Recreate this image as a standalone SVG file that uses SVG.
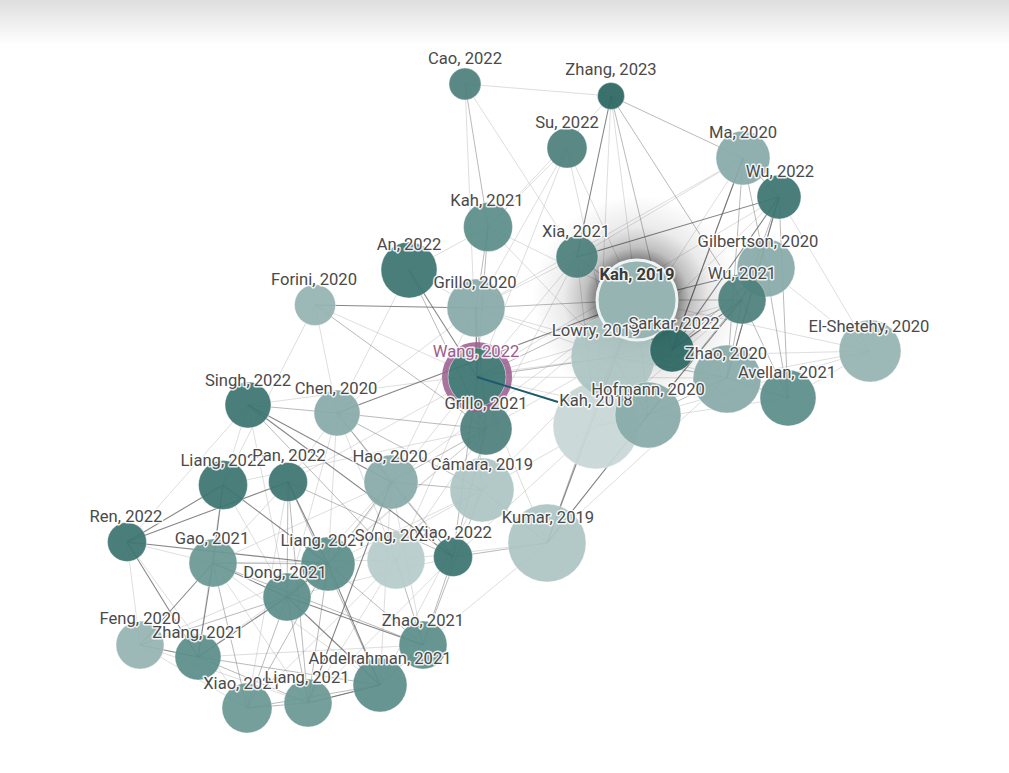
<svg xmlns="http://www.w3.org/2000/svg" width="1009" height="773" viewBox="0 0 1009 773">
<defs>
<linearGradient id="topfade" x1="0" y1="0" x2="0" y2="1">
<stop offset="0" stop-color="#dedede"/>
<stop offset="1" stop-color="#ffffff"/>
</linearGradient>
<radialGradient id="glow" cx="0.5" cy="0.5" r="0.5">
<stop offset="0.38" stop-color="#000" stop-opacity="0.5"/>
<stop offset="0.5" stop-color="#000" stop-opacity="0.25"/>
<stop offset="0.7" stop-color="#000" stop-opacity="0.08"/>
<stop offset="1" stop-color="#000" stop-opacity="0"/>
</radialGradient>
<style>
.e1{stroke:#5f5f5f;stroke-opacity:.75;stroke-width:1.1;fill:none}
.e2{stroke:#8c8c8c;stroke-opacity:.6;stroke-width:1;fill:none}
.e3{stroke:#bdbdbd;stroke-opacity:.5;stroke-width:1;fill:none}
.n circle{stroke:#fff;stroke-opacity:.35;stroke-width:1;opacity:.93}
.c0{fill:#2c6762}.c1{fill:#3d7571}.c2{fill:#4d807c}.c3{fill:#5c8e8a}.c4{fill:#6a9894}
.c5{fill:#88aba9}.c6{fill:#96b4b2}.c7{fill:#adc5c4}.c8{fill:#b6cccb}.c9{fill:#c8d8d7}
text{font-family:Roboto,"Liberation Sans",sans-serif;font-size:16.6px;fill:#4a4a4a;text-anchor:middle;stroke:#fff;stroke-width:3;stroke-opacity:.85;paint-order:stroke;stroke-linejoin:round}
</style>
</defs>
<rect width="1009" height="773" fill="#fff"/>
<rect width="1009" height="45" fill="url(#topfade)"/>
<g id="connectors">
<line class="e3" x1="465" y1="84" x2="611" y2="96"/>
<line class="e3" x1="465" y1="84" x2="577" y2="257"/>
<line class="e3" x1="465" y1="84" x2="477" y2="377"/>
<line class="e3" x1="567" y1="148" x2="488" y2="227"/>
<line class="e3" x1="567" y1="148" x2="476" y2="308"/>
<line class="e3" x1="567" y1="148" x2="637" y2="300"/>
<line class="e3" x1="567" y1="148" x2="477" y2="377"/>
<line class="e3" x1="567" y1="148" x2="613" y2="357"/>
<line class="e3" x1="611" y1="96" x2="637" y2="300"/>
<line class="e3" x1="611" y1="96" x2="488" y2="227"/>
<line class="e3" x1="611" y1="96" x2="596" y2="426"/>
<line class="e3" x1="743" y1="158" x2="577" y2="257"/>
<line class="e3" x1="743" y1="158" x2="613" y2="357"/>
<line class="e3" x1="743" y1="158" x2="476" y2="308"/>
<line class="e3" x1="779" y1="197" x2="870" y2="351"/>
<line class="e3" x1="779" y1="197" x2="613" y2="357"/>
<line class="e3" x1="766" y1="268" x2="870" y2="351"/>
<line class="e3" x1="727" y1="378" x2="870" y2="351"/>
<line class="e3" x1="788" y1="398" x2="870" y2="351"/>
<line class="e3" x1="637" y1="300" x2="870" y2="351"/>
<line class="e3" x1="648" y1="415" x2="870" y2="351"/>
<line class="e3" x1="488" y1="227" x2="637" y2="300"/>
<line class="e3" x1="488" y1="227" x2="613" y2="357"/>
<line class="e3" x1="488" y1="227" x2="409" y2="270"/>
<line class="e3" x1="577" y1="257" x2="477" y2="377"/>
<line class="e3" x1="577" y1="257" x2="476" y2="308"/>
<line class="e3" x1="577" y1="257" x2="596" y2="426"/>
<line class="e3" x1="577" y1="257" x2="486" y2="429"/>
<line class="e3" x1="409" y1="270" x2="476" y2="308"/>
<line class="e3" x1="409" y1="270" x2="337" y2="413"/>
<line class="e3" x1="315" y1="305" x2="337" y2="413"/>
<line class="e3" x1="315" y1="305" x2="223" y2="485"/>
<line class="e3" x1="315" y1="305" x2="477" y2="377"/>
<line class="e3" x1="476" y1="308" x2="613" y2="357"/>
<line class="e3" x1="476" y1="308" x2="727" y2="378"/>
<line class="e3" x1="476" y1="308" x2="337" y2="413"/>
<line class="e3" x1="476" y1="308" x2="391" y2="482"/>
<line class="e3" x1="477" y1="377" x2="742" y2="300"/>
<line class="e3" x1="477" y1="377" x2="727" y2="378"/>
<line class="e3" x1="477" y1="377" x2="648" y2="415"/>
<line class="e3" x1="477" y1="377" x2="779" y2="197"/>
<line class="e3" x1="477" y1="377" x2="482" y2="490"/>
<line class="e3" x1="477" y1="377" x2="547" y2="543"/>
<line class="e3" x1="477" y1="377" x2="396" y2="560"/>
<line class="e3" x1="477" y1="377" x2="328" y2="564"/>
<line class="e3" x1="477" y1="377" x2="288" y2="482"/>
<line class="e3" x1="486" y1="429" x2="637" y2="300"/>
<line class="e3" x1="486" y1="429" x2="613" y2="357"/>
<line class="e3" x1="486" y1="429" x2="287" y2="597"/>
<line class="e3" x1="486" y1="429" x2="328" y2="564"/>
<line class="e3" x1="486" y1="429" x2="396" y2="560"/>
<line class="e3" x1="486" y1="429" x2="223" y2="485"/>
<line class="e3" x1="248" y1="405" x2="613" y2="357"/>
<line class="e3" x1="248" y1="405" x2="127" y2="542"/>
<line class="e3" x1="248" y1="405" x2="223" y2="485"/>
<line class="e3" x1="248" y1="405" x2="287" y2="597"/>
<line class="e3" x1="337" y1="413" x2="396" y2="560"/>
<line class="e3" x1="337" y1="413" x2="328" y2="564"/>
<line class="e3" x1="337" y1="413" x2="287" y2="597"/>
<line class="e3" x1="337" y1="413" x2="288" y2="482"/>
<line class="e3" x1="391" y1="482" x2="287" y2="597"/>
<line class="e3" x1="391" y1="482" x2="213" y2="563"/>
<line class="e3" x1="391" y1="482" x2="423" y2="645"/>
<line class="e3" x1="391" y1="482" x2="380" y2="685"/>
<line class="e3" x1="391" y1="482" x2="637" y2="300"/>
<line class="e3" x1="482" y1="490" x2="596" y2="426"/>
<line class="e3" x1="482" y1="490" x2="613" y2="357"/>
<line class="e3" x1="482" y1="490" x2="328" y2="564"/>
<line class="e3" x1="482" y1="490" x2="287" y2="597"/>
<line class="e3" x1="482" y1="490" x2="380" y2="685"/>
<line class="e3" x1="547" y1="543" x2="648" y2="415"/>
<line class="e3" x1="547" y1="543" x2="396" y2="560"/>
<line class="e3" x1="547" y1="543" x2="423" y2="645"/>
<line class="e3" x1="547" y1="543" x2="727" y2="378"/>
<line class="e3" x1="396" y1="560" x2="247" y2="708"/>
<line class="e3" x1="396" y1="560" x2="308" y2="703"/>
<line class="e3" x1="396" y1="560" x2="213" y2="563"/>
<line class="e3" x1="453" y1="557" x2="308" y2="703"/>
<line class="e3" x1="453" y1="557" x2="287" y2="597"/>
<line class="e3" x1="453" y1="557" x2="596" y2="426"/>
<line class="e3" x1="127" y1="542" x2="140" y2="645"/>
<line class="e3" x1="127" y1="542" x2="213" y2="563"/>
<line class="e3" x1="127" y1="542" x2="247" y2="708"/>
<line class="e3" x1="140" y1="645" x2="247" y2="708"/>
<line class="e3" x1="140" y1="645" x2="308" y2="703"/>
<line class="e3" x1="140" y1="645" x2="328" y2="564"/>
<line class="e3" x1="198" y1="657" x2="423" y2="645"/>
<line class="e3" x1="198" y1="657" x2="328" y2="564"/>
<line class="e3" x1="213" y1="563" x2="380" y2="685"/>
<line class="e3" x1="213" y1="563" x2="308" y2="703"/>
<line class="e3" x1="223" y1="485" x2="287" y2="597"/>
<line class="e3" x1="223" y1="485" x2="198" y2="657"/>
<line class="e3" x1="288" y1="482" x2="247" y2="708"/>
<line class="e3" x1="288" y1="482" x2="213" y2="563"/>
<line class="e3" x1="613" y1="357" x2="870" y2="351"/>
<line class="e3" x1="596" y1="426" x2="742" y2="300"/>
<line class="e3" x1="596" y1="426" x2="727" y2="378"/>
<line class="e3" x1="596" y1="426" x2="788" y2="398"/>
<line class="e2" x1="465" y1="84" x2="488" y2="227"/>
<line class="e2" x1="611" y1="96" x2="743" y2="158"/>
<line class="e2" x1="611" y1="96" x2="742" y2="300"/>
<line class="e2" x1="611" y1="96" x2="672" y2="350"/>
<line class="e2" x1="743" y1="158" x2="779" y2="197"/>
<line class="e2" x1="743" y1="158" x2="672" y2="350"/>
<line class="e2" x1="743" y1="158" x2="727" y2="378"/>
<line class="e2" x1="743" y1="158" x2="766" y2="268"/>
<line class="e2" x1="779" y1="197" x2="742" y2="300"/>
<line class="e2" x1="779" y1="197" x2="788" y2="398"/>
<line class="e2" x1="779" y1="197" x2="727" y2="378"/>
<line class="e2" x1="766" y1="268" x2="672" y2="350"/>
<line class="e2" x1="766" y1="268" x2="788" y2="398"/>
<line class="e2" x1="766" y1="268" x2="648" y2="415"/>
<line class="e2" x1="742" y1="300" x2="613" y2="357"/>
<line class="e2" x1="742" y1="300" x2="727" y2="378"/>
<line class="e2" x1="742" y1="300" x2="788" y2="398"/>
<line class="e2" x1="742" y1="300" x2="637" y2="300"/>
<line class="e2" x1="727" y1="378" x2="788" y2="398"/>
<line class="e2" x1="727" y1="378" x2="648" y2="415"/>
<line class="e2" x1="727" y1="378" x2="613" y2="357"/>
<line class="e2" x1="648" y1="415" x2="637" y2="300"/>
<line class="e2" x1="648" y1="415" x2="613" y2="357"/>
<line class="e2" x1="648" y1="415" x2="596" y2="426"/>
<line class="e2" x1="637" y1="300" x2="577" y2="257"/>
<line class="e2" x1="637" y1="300" x2="477" y2="377"/>
<line class="e2" x1="637" y1="300" x2="613" y2="357"/>
<line class="e2" x1="613" y1="357" x2="477" y2="377"/>
<line class="e2" x1="488" y1="227" x2="476" y2="308"/>
<line class="e2" x1="488" y1="227" x2="477" y2="377"/>
<line class="e2" x1="476" y1="308" x2="486" y2="429"/>
<line class="e2" x1="476" y1="308" x2="637" y2="300"/>
<line class="e2" x1="409" y1="270" x2="486" y2="429"/>
<line class="e2" x1="315" y1="305" x2="486" y2="429"/>
<line class="e2" x1="337" y1="413" x2="391" y2="482"/>
<line class="e2" x1="337" y1="413" x2="486" y2="429"/>
<line class="e2" x1="337" y1="413" x2="453" y2="557"/>
<line class="e2" x1="337" y1="413" x2="482" y2="490"/>
<line class="e2" x1="248" y1="405" x2="396" y2="560"/>
<line class="e2" x1="248" y1="405" x2="337" y2="413"/>
<line class="e2" x1="391" y1="482" x2="486" y2="429"/>
<line class="e2" x1="391" y1="482" x2="482" y2="490"/>
<line class="e2" x1="391" y1="482" x2="328" y2="564"/>
<line class="e2" x1="391" y1="482" x2="453" y2="557"/>
<line class="e2" x1="453" y1="557" x2="486" y2="429"/>
<line class="e2" x1="453" y1="557" x2="477" y2="377"/>
<line class="e2" x1="453" y1="557" x2="547" y2="543"/>
<line class="e2" x1="423" y1="645" x2="453" y2="557"/>
<line class="e2" x1="423" y1="645" x2="396" y2="560"/>
<line class="e2" x1="423" y1="645" x2="482" y2="490"/>
<line class="e2" x1="547" y1="543" x2="482" y2="490"/>
<line class="e2" x1="547" y1="543" x2="613" y2="357"/>
<line class="e2" x1="288" y1="482" x2="453" y2="557"/>
<line class="e2" x1="288" y1="482" x2="308" y2="703"/>
<line class="e2" x1="288" y1="482" x2="380" y2="685"/>
<line class="e2" x1="288" y1="482" x2="287" y2="597"/>
<line class="e2" x1="213" y1="563" x2="328" y2="564"/>
<line class="e2" x1="213" y1="563" x2="423" y2="645"/>
<line class="e2" x1="213" y1="563" x2="247" y2="708"/>
<line class="e2" x1="140" y1="645" x2="287" y2="597"/>
<line class="e2" x1="198" y1="657" x2="308" y2="703"/>
<line class="e2" x1="198" y1="657" x2="380" y2="685"/>
<line class="e2" x1="287" y1="597" x2="308" y2="703"/>
<line class="e2" x1="287" y1="597" x2="247" y2="708"/>
<line class="e2" x1="328" y1="564" x2="308" y2="703"/>
<line class="e2" x1="328" y1="564" x2="423" y2="645"/>
<line class="e2" x1="328" y1="564" x2="247" y2="708"/>
<line class="e2" x1="380" y1="685" x2="247" y2="708"/>
<line class="e2" x1="380" y1="685" x2="308" y2="703"/>
<line class="e2" x1="380" y1="685" x2="423" y2="645"/>
<line class="e2" x1="247" y1="708" x2="308" y2="703"/>
<line class="e1" x1="315" y1="305" x2="476" y2="308"/>
<line class="e1" x1="409" y1="270" x2="477" y2="377"/>
<line class="e1" x1="476" y1="308" x2="477" y2="377"/>
<line class="e1" x1="611" y1="96" x2="577" y2="257"/>
<line class="e1" x1="779" y1="197" x2="577" y2="257"/>
<line class="e1" x1="743" y1="158" x2="672" y2="350"/>
<line class="e1" x1="779" y1="197" x2="672" y2="350"/>
<line class="e1" x1="742" y1="300" x2="672" y2="350"/>
<line class="e1" x1="742" y1="300" x2="648" y2="415"/>
<line class="e1" x1="766" y1="268" x2="637" y2="300"/>
<line class="e1" x1="779" y1="197" x2="727" y2="378"/>
<line class="e1" x1="547" y1="543" x2="637" y2="300"/>
<line class="e1" x1="547" y1="543" x2="648" y2="415"/>
<line class="e1" x1="127" y1="542" x2="223" y2="485"/>
<line class="e1" x1="127" y1="542" x2="288" y2="482"/>
<line class="e1" x1="127" y1="542" x2="328" y2="564"/>
<line class="e1" x1="127" y1="542" x2="198" y2="657"/>
<line class="e1" x1="223" y1="485" x2="213" y2="563"/>
<line class="e1" x1="223" y1="485" x2="328" y2="564"/>
<line class="e1" x1="288" y1="482" x2="328" y2="564"/>
<line class="e1" x1="213" y1="563" x2="198" y2="657"/>
<line class="e1" x1="213" y1="563" x2="287" y2="597"/>
<line class="e1" x1="213" y1="563" x2="140" y2="645"/>
<line class="e1" x1="140" y1="645" x2="198" y2="657"/>
<line class="e1" x1="287" y1="597" x2="198" y2="657"/>
<line class="e1" x1="287" y1="597" x2="380" y2="685"/>
<line class="e1" x1="287" y1="597" x2="423" y2="645"/>
<line class="e1" x1="287" y1="597" x2="328" y2="564"/>
<line class="e1" x1="328" y1="564" x2="380" y2="685"/>
<line class="e1" x1="308" y1="703" x2="380" y2="685"/>
<line class="e1" x1="248" y1="405" x2="391" y2="482"/>
<line class="e1" x1="248" y1="405" x2="453" y2="557"/>
<line class="e1" x1="337" y1="413" x2="637" y2="300"/>
<line class="e1" x1="391" y1="482" x2="308" y2="703"/>
</g>
<circle cx="637" cy="300" r="105" fill="url(#glow)"/>
<g class="n">
<g id="n-kah2018"><circle class="c9" cx="596" cy="426" r="43"/></g>
<g id="n-lowry2019"><circle class="c7" cx="613" cy="357" r="42"/></g>
<g id="n-kumar2019"><circle class="c7" cx="547" cy="543" r="39"/></g>
<g id="n-camara2019"><circle class="c7" cx="482" cy="490" r="32"/></g>
<g id="n-song"><circle class="c8" cx="396" cy="560" r="29"/></g>
<g id="n-gilbertson2020"><circle class="c5" cx="766" cy="268" r="29"/></g>
<g id="n-ma2020"><circle class="c5" cx="743" cy="158" r="27"/></g>
<g id="n-elshetehy2020"><circle class="c6" cx="870" cy="351" r="31"/></g>
<g id="n-zhao2020"><circle class="c5" cx="727" cy="379" r="34"/></g>
<g id="n-avellan2021"><circle class="c3" cx="788" cy="398" r="28"/></g>
<g id="n-hofmann2020"><circle class="c5" cx="648" cy="415" r="33"/></g>
<g id="n-kah2019"><circle class="c6" cx="637" cy="300" r="40" style="stroke:#eef3f3;stroke-opacity:1;stroke-width:3;opacity:1"/></g>
<g id="n-sarkar2022"><circle class="c0" cx="672" cy="350" r="22"/></g>
<g id="n-wu2021"><circle class="c2" cx="742" cy="300" r="24"/></g>
<g id="n-wu2022"><circle class="c1" cx="779" cy="197" r="22"/></g>
<g id="n-cao2022"><circle class="c2" cx="465" cy="84" r="16"/></g>
<g id="n-zhang2023"><circle class="c0" cx="611" cy="96" r="13.5"/></g>
<g id="n-su2022"><circle class="c2" cx="567" cy="148" r="20"/></g>
<g id="n-kah2021"><circle class="c3" cx="488" cy="227" r="24.5"/></g>
<g id="n-xia2021"><circle class="c2" cx="577" cy="257" r="21"/></g>
<g id="n-an2022"><circle class="c1" cx="409" cy="270" r="28"/></g>
<g id="n-forini2020"><circle class="c6" cx="315" cy="305" r="20.5"/></g>
<g id="n-grillo2020"><circle class="c5" cx="476" cy="308" r="29"/></g>
<g id="n-grillo2021"><circle class="c2" cx="486" cy="429" r="26"/></g>
<g id="n-wang2022"><circle cx="477" cy="377" r="32" style="fill:none;stroke:#9a5a8c;stroke-opacity:.85;stroke-width:6;opacity:1"/><circle class="c1" cx="477" cy="377" r="29"/></g>
<g id="n-singh2022"><circle class="c1" cx="248" cy="405" r="23"/></g>
<g id="n-chen2020"><circle class="c5" cx="337" cy="413" r="23"/></g>
<g id="n-liang2022"><circle class="c1" cx="223" cy="485" r="24.5"/></g>
<g id="n-pan2022"><circle class="c1" cx="288" cy="482" r="19.5"/></g>
<g id="n-hao2020"><circle class="c5" cx="391" cy="482" r="27"/></g>
<g id="n-xiao2022"><circle class="c1" cx="453" cy="557" r="19.5"/></g>
<g id="n-ren2022"><circle class="c1" cx="127" cy="542" r="19.5"/></g>
<g id="n-gao2021"><circle class="c4" cx="213" cy="563" r="24"/></g>
<g id="n-liang2021a"><circle class="c3" cx="328" cy="564" r="27"/></g>
<g id="n-dong2021"><circle class="c3" cx="287" cy="597" r="24"/></g>
<g id="n-feng2020"><circle class="c6" cx="140" cy="645" r="24"/></g>
<g id="n-zhang2021"><circle class="c3" cx="198" cy="657" r="23"/></g>
<g id="n-zhao2021"><circle class="c3" cx="423" cy="645" r="24"/></g>
<g id="n-abdelrahman2021"><circle class="c3" cx="380" cy="685" r="27"/></g>
<g id="n-xiao2021"><circle class="c4" cx="247" cy="708" r="25"/></g>
<g id="n-liang2021b"><circle class="c4" cx="308" cy="703" r="24"/></g>
</g>
<line x1="477" y1="377" x2="558" y2="402" stroke="#1d5a6e" stroke-width="2"/>
<g id="labels">
<text x="465" y="64">Cao, 2022</text>
<text x="611" y="75">Zhang, 2023</text>
<text x="567" y="128">Su, 2022</text>
<text x="743" y="138">Ma, 2020</text>
<text x="780" y="177">Wu, 2022</text>
<text x="487" y="206">Kah, 2021</text>
<text x="576" y="237">Xia, 2021</text>
<text x="409" y="250">An, 2022</text>
<text x="758" y="247">Gilbertson, 2020</text>
<text x="314" y="285">Forini, 2020</text>
<text x="475" y="288">Grillo, 2020</text>
<text x="742" y="279">Wu, 2021</text>
<text x="596" y="336">Lowry, 2019</text>
<text x="637" y="280" style="font-weight:bold;fill:#3a3a3a">Kah, 2019</text>
<text x="674" y="329">Sarkar, 2022</text>
<text x="869" y="332">El-Shetehy, 2020</text>
<text x="726" y="359">Zhao, 2020</text>
<text x="787" y="378">Avellan, 2021</text>
<text x="476" y="357" style="fill:#9a5b8d">Wang, 2022</text>
<text x="596" y="406">Kah, 2018</text>
<text x="648" y="395">Hofmann, 2020</text>
<text x="486" y="409">Grillo, 2021</text>
<text x="248" y="386">Singh, 2022</text>
<text x="336" y="394">Chen, 2020</text>
<text x="390" y="462">Hao, 2020</text>
<text x="482" y="470">Câmara, 2019</text>
<text x="223" y="466">Liang, 2022</text>
<text x="289" y="461">Pan, 2022</text>
<text x="548" y="523">Kumar, 2019</text>
<text x="126" y="522">Ren, 2022</text>
<text x="212" y="544">Gao, 2021</text>
<text x="323" y="546">Liang, 2021</text>
<text x="396" y="541">Song, 2021</text>
<text x="453" y="538">Xiao, 2022</text>
<text x="285" y="578">Dong, 2021</text>
<text x="140" y="624">Feng, 2020</text>
<text x="198" y="638">Zhang, 2021</text>
<text x="423" y="626">Zhao, 2021</text>
<text x="380" y="664">Abdelrahman, 2021</text>
<text x="242" y="689">Xiao, 2021</text>
<text x="307" y="683">Liang, 2021</text>
</g>
</svg>
